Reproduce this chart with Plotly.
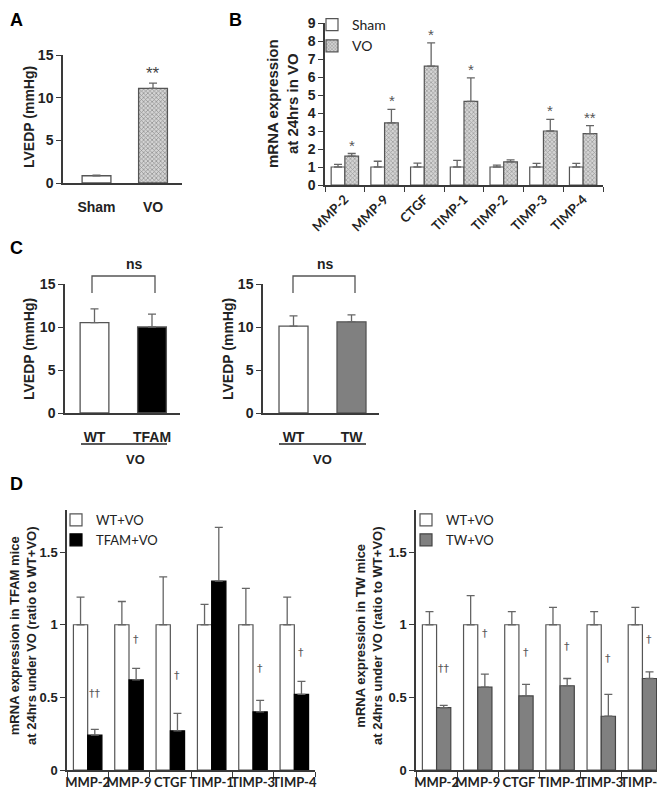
import plotly.graph_objects as go

# page is 665x793; the browser body keeps an 8px margin, so the figure is 8px smaller
OFF = 8
W, H = 665 - OFF, 793 - OFF
def px(x): return max(x - OFF, 0) / W
def py(y): return 1 - max(y - OFF, 0) / H

# ---------------- data ----------------
a_groups = ["Sham", "VO"]
a_values = [0.85, 11.1]
a_err = [0.06, 0.6]
a_sig = ["", "**"]

b_genes = ["MMP-2", "MMP-9", "CTGF", "TIMP-1", "TIMP-2", "TIMP-3", "TIMP-4"]
b_sham = [1, 1, 1, 1, 1, 1, 1]
b_sham_err = [0.15, 0.32, 0.22, 0.37, 0.1, 0.2, 0.2]
b_vo = [1.6, 3.45, 6.6, 4.65, 1.28, 3.0, 2.85]
b_vo_err = [0.15, 0.75, 1.3, 1.3, 0.12, 0.65, 0.45]
b_sig = ["*", "*", "*", "*", "", "*", "**"]

c1_groups = ["WT", "TFAM"]
c1_values = [10.5, 10.0]
c1_err = [1.6, 1.5]
c2_groups = ["WT", "TW"]
c2_values = [10.1, 10.6]
c2_err = [1.2, 0.8]

d_genes = ["MMP-2", "MMP-9", "CTGF", "TIMP-1", "TIMP-3", "TIMP-4"]
d1_wt = [1, 1, 1, 1, 1, 1]
d1_wt_err = [0.19, 0.16, 0.33, 0.14, 0.25, 0.19]
d1_tfam = [0.24, 0.62, 0.27, 1.3, 0.40, 0.52]
d1_tfam_err = [0.04, 0.08, 0.12, 0.37, 0.08, 0.09]
d1_sig = ["††", "†", "†", "", "†", "†"]
d1_sig_y = [0.53, 0.90, 0.65, None, 0.70, 0.81]

d2_wt = [1, 1, 1, 1, 1, 1]
d2_wt_err = [0.09, 0.2, 0.09, 0.12, 0.09, 0.12]
d2_tw = [0.43, 0.57, 0.51, 0.58, 0.37, 0.63]
d2_tw_err = [0.015, 0.09, 0.08, 0.05, 0.15, 0.045]
d2_sig = ["††", "†", "†", "†", "†", "†"]
d2_sig_y = [0.70, 0.94, 0.81, 0.85, 0.77, 0.90]

# ---------------- styles ----------------
ARIAL = "Liberation Sans"
CALI = "Lato"
AX = "#3a3a3a"
OUT = "#555555"
ERR = dict(color="#666666", thickness=1.3, width=4)
HFG, HBG = "#5a5a5a", "#d4d4d4"
hatch = dict(shape="x", fgcolor=HFG, bgcolor=HBG, size=3, solidity=0.4)

def errs(arr):
    return dict(type="data", array=arr, arrayminus=[0] * len(arr), symmetric=False, **ERR)

fig = go.Figure()

# A
fig.add_trace(go.Bar(x=a_groups, y=a_values, error_y=errs(a_err), width=0.51,
                     marker=dict(color=["white", HBG], line=dict(color=OUT, width=1.3),
                                 pattern=dict(shape=["", "x"], fgcolor=HFG, bgcolor=["white", HBG], size=3, solidity=0.4)),
                     xaxis="x", yaxis="y", showlegend=False))
# B
fig.add_trace(go.Bar(x=b_genes, y=b_sham, error_y=errs(b_sham_err), name="Sham",
                     marker=dict(color="white", line=dict(color=OUT, width=1.2)),
                     xaxis="x2", yaxis="y2", legend="legend"))
fig.add_trace(go.Bar(x=b_genes, y=b_vo, error_y=errs(b_vo_err), name="VO",
                     marker=dict(color=HBG, line=dict(color=OUT, width=1.2), pattern=hatch),
                     xaxis="x2", yaxis="y2", legend="legend"))
# C
fig.add_trace(go.Bar(x=c1_groups, y=c1_values, error_y=errs(c1_err), width=0.5,
                     marker=dict(color=["white", "black"], line=dict(color=OUT, width=1.3)),
                     xaxis="x3", yaxis="y3", showlegend=False))
fig.add_trace(go.Bar(x=c2_groups, y=c2_values, error_y=errs(c2_err), width=0.5,
                     marker=dict(color=["white", "#808080"], line=dict(color=OUT, width=1.3)),
                     xaxis="x4", yaxis="y4", showlegend=False))
# D left
fig.add_trace(go.Bar(x=d_genes, y=d1_wt, error_y=errs(d1_wt_err), name="WT+VO",
                     marker=dict(color="white", line=dict(color=OUT, width=1.2)),
                     xaxis="x5", yaxis="y5", legend="legend2"))
fig.add_trace(go.Bar(x=d_genes, y=d1_tfam, error_y=errs(d1_tfam_err), name="TFAM+VO",
                     marker=dict(color="black", line=dict(color="black", width=1.2)),
                     xaxis="x5", yaxis="y5", legend="legend2"))
# D right
fig.add_trace(go.Bar(x=d_genes, y=d2_wt, error_y=errs(d2_wt_err), name="WT+VO",
                     marker=dict(color="white", line=dict(color=OUT, width=1.2)),
                     xaxis="x6", yaxis="y6", legend="legend3"))
fig.add_trace(go.Bar(x=d_genes, y=d2_tw, error_y=errs(d2_tw_err), name="TW+VO",
                     marker=dict(color="#808080", line=dict(color="#444444", width=1.2)),
                     xaxis="x6", yaxis="y6", legend="legend3"))

def yax(x0, x1, y0, y1, anchor, rng, size=14, **kw):
    d = dict(domain=[py(y1), py(y0)], anchor=anchor, range=rng, showline=True, linecolor=AX,
             linewidth=1.5, ticks="outside", ticklen=5, tickcolor=AX, tickwidth=1.3,
             showgrid=False, zeroline=False, automargin=False,
             tickfont=dict(family=ARIAL, size=size, color="#222", weight="bold"))
    d.update(kw)
    return d

def xax(x0, x1, anchor, rng, font, **kw):
    d = dict(domain=[px(x0), px(x1)], anchor=anchor, range=rng, showline=True, linecolor=AX,
             linewidth=1.5, showgrid=False, zeroline=False, tickfont=font, automargin=False)
    d.update(kw)
    return d

boldA = dict(family=ARIAL, size=14, color="#222", weight="bold")
boldC = dict(family=CALI, size=13, color="#222", weight="bold")
legfont = dict(family=CALI, size=13, color="#222")

fig.update_layout(
    width=W, height=H, margin=dict(l=0, r=0, t=0, b=0, pad=0), autosize=False,
    paper_bgcolor="white", plot_bgcolor="white",
    barmode="group", bargap=0.31, bargroupgap=0,
    xaxis=xax(63, 182, "y", [-0.593, 1.513], boldA, ticks="", ticklabelstandoff=10),
    yaxis=yax(63, 182, 55, 183, "x", [0, 15], dtick=5),
    xaxis2=xax(325, 603, "y2", [-0.5, 6.5], dict(family=CALI, size=13, color="#222", weight="bold"),
               ticks="outside", tickson="boundaries", ticklen=5, tickcolor=AX, tickwidth=1.3, tickangle=-45),
    yaxis2=yax(325, 603, 23, 185, "x2", [0, 9], size=14, dtick=1),
    xaxis3=xax(65, 180, "y3", [-0.513, 1.487], boldA, ticks="", ticklabelstandoff=10),
    yaxis3=yax(65, 180, 284, 413, "x3", [0, 15], dtick=5),
    xaxis4=xax(263, 379, "y4", [-0.526, 1.474], boldA, ticks="", ticklabelstandoff=10),
    yaxis4=yax(263, 379, 284, 413, "x4", [0, 15], dtick=5),
    xaxis5=xax(67, 315, "y5", [-0.5, 5.5], boldC, ticks="outside", tickson="boundaries",
               ticklen=5, tickcolor=AX, tickwidth=1.3, tickangle=0),
    yaxis5=yax(67, 315, 510, 770, "x5", [0, 1.79], size=13, tickvals=[0, 0.5, 1, 1.5], ticktext=["0", "0.5", "1", "1.5"]),
    xaxis6=xax(416, 663, "y6", [-0.5, 5.5], boldC, ticks="outside", tickson="boundaries",
               ticklen=5, tickcolor=AX, tickwidth=1.3, tickangle=0),
    yaxis6=yax(416, 663, 510, 770, "x6", [0, 1.79], size=13, tickvals=[0, 0.5, 1, 1.5], ticktext=["0", "0.5", "1", "1.5"]),
    legend=dict(x=px(312), y=py(9), xanchor="left", yanchor="top", bgcolor="rgba(0,0,0,0)",
                font=dict(family=CALI, size=14, color="#222"), tracegroupgap=0, itemwidth=30),
    legend2=dict(x=px(56), y=py(505), xanchor="left", yanchor="top", bgcolor="rgba(0,0,0,0)",
                 font=legfont, tracegroupgap=0, itemwidth=30),
    legend3=dict(x=px(406), y=py(505), xanchor="left", yanchor="top", bgcolor="rgba(0,0,0,0)",
                 font=legfont, tracegroupgap=0, itemwidth=30),
)

ann = []
def letter(t, x, y):
    ann.append(dict(text=t, x=px(x), y=py(y), xref="paper", yref="paper", xanchor="left", yanchor="top",
                    showarrow=False, font=dict(family=ARIAL, size=18, color="black", weight="bold")))
letter("A", 4, 3); letter("B", 227, 2); letter("C", 0, 236); letter("D", 0, 472)

def ytitle(t, x, y, size):
    ann.append(dict(text=t, x=px(x), y=py(y), xref="paper", yref="paper", xanchor="center", yanchor="middle",
                    textangle=-90, showarrow=False, font=dict(family=ARIAL, size=size, color="#222", weight="bold")))
ytitle("LVEDP (mmHg)", 29, 117, 14)
ytitle("LVEDP (mmHg)", 29, 349, 14)
ytitle("LVEDP (mmHg)", 228, 349, 14)
ytitle("mRNA expression<br>at 24hrs in VO", 283, 104, 15)
ytitle("mRNA expression in TFAM mice<br>at 24hrs under VO (ratio to WT+VO)", 23, 636, 13)
ytitle("mRNA expression in TW mice<br>at 24hrs under VO (ratio to WT+VO)", 369, 636, 13)

# significance marks
for g, v, e, s in zip(a_groups, a_values, a_err, a_sig):
    if s:
        ann.append(dict(text=s, x=g, y=v + e, xref="x", yref="y", yanchor="bottom", yshift=-2,
                        showarrow=False, font=dict(family=ARIAL, size=17, color="#444")))
for g, v, e, s in zip(b_genes, b_vo, b_vo_err, b_sig):
    if s:
        ann.append(dict(text=s, x=g, y=v + e, xref="x2", yref="y2", yanchor="bottom", xshift=7, yshift=-2,
                        showarrow=False, font=dict(family=ARIAL, size=15, color="#555")))
for g, s, yv in zip(d_genes, d1_sig, d1_sig_y):
    if s:
        ann.append(dict(text=s, x=g, y=yv, xref="x5", yref="y5", yanchor="middle", xshift=7,
                        showarrow=False, font=dict(family="DejaVu Sans", size=11, color="#555")))
for g, s, yv in zip(d_genes, d2_sig, d2_sig_y):
    if s:
        ann.append(dict(text=s, x=g, y=yv, xref="x6", yref="y6", yanchor="middle", xshift=7,
                        showarrow=False, font=dict(family="DejaVu Sans", size=11, color="#555")))

# ns brackets and VO group labels
shapes = []
for (xl, xr, xc) in [(92, 155, 124), (293, 355, 325)]:
    shapes.append(dict(type="path", xref="paper", yref="paper",
                       path=f"M {px(xl)} {py(293)} L {px(xl)} {py(276)} L {px(xr)} {py(276)} L {px(xr)} {py(293)}",
                       line=dict(color="#555", width=1.3)))
    ann.append(dict(text="ns", x=px(xc), y=py(274), xref="paper", yref="paper", showarrow=False,
                    yanchor="bottom", font=dict(family=ARIAL, size=14, color="#222", weight="bold")))
for (xl, xr) in [(81, 167), (279, 366)]:
    shapes.append(dict(type="line", xref="paper", yref="paper", x0=px(xl), x1=px(xr), y0=py(444), y1=py(444),
                       line=dict(color="#222", width=1.5)))
    ann.append(dict(text="VO", x=px((xl + xr) / 2), y=py(459), xref="paper", yref="paper", showarrow=False,
                    font=dict(family=ARIAL, size=13, color="#222", weight="bold")))

fig.update_layout(annotations=ann, shapes=shapes)
fig.write_html("out.html")
